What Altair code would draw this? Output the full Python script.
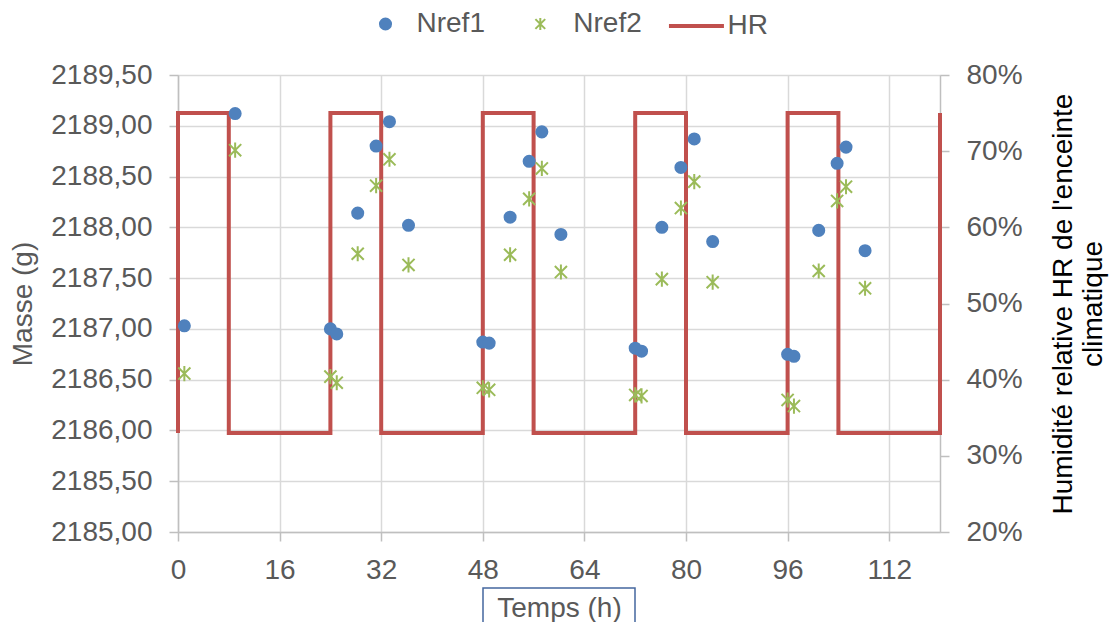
import altair as alt
import pandas as pd

# ---- data ----
T = [1, 9, 24, 25, 28.3, 31.2, 33.3, 36.3, 48, 49, 52.3, 55.3, 57.3, 60.3,
     72, 73, 76.2, 79.2, 81.3, 84.2, 96, 97, 100.9, 103.8, 105.2, 108.2]
NREF1 = [2187.03, 2189.12, 2187.00, 2186.95, 2188.14, 2188.80, 2189.04, 2188.02,
         2186.87, 2186.86, 2188.10, 2188.65, 2188.94, 2187.93,
         2186.81, 2186.78, 2188.00, 2188.59, 2188.87, 2187.86,
         2186.75, 2186.73, 2187.97, 2188.63, 2188.79, 2187.77]
NREF2 = [2186.56, 2188.76, 2186.53, 2186.47, 2187.74, 2188.41, 2188.67, 2187.63,
         2186.42, 2186.40, 2187.73, 2188.28, 2188.58, 2187.56,
         2186.35, 2186.34, 2187.49, 2188.19, 2188.45, 2187.46,
         2186.30, 2186.24, 2187.57, 2188.26, 2188.40, 2187.40]
HR_T = [0, 0, 8, 24, 32, 48, 56, 72, 80, 96, 104, 120]
HR_V = [0.33, 0.75, 0.33, 0.75, 0.33, 0.75, 0.33, 0.75, 0.33, 0.75, 0.33, 0.75]

SERIES = ["Nref1", "Nref2", "HR"]
COLORS = ["#4F81BD", "#9BBB59", "#C0504D"]
X_TICKS = [0, 16, 32, 48, 64, 80, 96, 112]
Y_TICKS = [2185.0, 2185.5, 2186.0, 2186.5, 2187.0, 2187.5, 2188.0, 2188.5, 2189.0, 2189.5]
HR_TICKS = [0.2, 0.3, 0.4, 0.5, 0.6, 0.7, 0.8]

df1 = pd.DataFrame({"t": T, "mass": NREF1, "series": SERIES[0]})
df2 = pd.DataFrame({"t": T, "mass": NREF2, "series": SERIES[1]})
dfhr = pd.DataFrame({"t": HR_T, "hr": HR_V, "series": SERIES[2],
                     "order": list(range(len(HR_T)))})

FONT = "Liberation Sans"
GRAY = "#595959"
ASTER = "M-0.8,-0.8L0.8,0.8M-0.8,0.8L0.8,-0.8M0,-1L0,1"
WIDE_STROKE = "M-2,0L2,0"
LEG_Y = -65


def legend(x, y, shape, size, offset, stroke_w):
    return alt.Legend(orient="none", legendX=x, legendY=y, title=None, padding=0,
                      symbolType=shape, symbolSize=size, labelOffset=offset,
                      symbolStrokeWidth=stroke_w, symbolOpacity=1,
                      labelFontSize=28, labelColor=GRAY, labelFont=FONT)


def color(i, leg):
    return alt.Color("series:N", scale=alt.Scale(domain=[SERIES[i]], range=[COLORS[i]]),
                     legend=leg)


x_enc = alt.X(
    "t:Q",
    scale=alt.Scale(domain=[0, 120], nice=False, zero=False),
    axis=alt.Axis(values=X_TICKS, title="Temps (h)", grid=True, gridColor="#D9D9D9",
                  gridWidth=1.5, domainColor="#BFBFBF", domainWidth=1.5,
                  tickColor="#BFBFBF", tickWidth=1.5, tickSize=9, labelPadding=15,
                  labelFontSize=28, labelColor=GRAY, labelFont=FONT,
                  titleFontSize=28, titleColor=GRAY, titleFont=FONT,
                  titleFontWeight="normal", titlePadding=10, labelFlush=False),
)

y_mass = alt.Y(
    "mass:Q",
    scale=alt.Scale(domain=[2185, 2189.5], nice=False, zero=False),
    axis=alt.Axis(orient="left", values=Y_TICKS,
                  labelExpr="replace(format(datum.value, '.2f'), '.', ',')",
                  title="Masse (g)", grid=True, gridColor="#D9D9D9", gridWidth=1.5,
                  domainColor="#BFBFBF", domainWidth=1.5, tickColor="#BFBFBF",
                  tickWidth=1.5, tickSize=9, labelPadding=17,
                  labelFontSize=28, labelColor=GRAY, labelFont=FONT,
                  titleFontSize=28, titleColor=GRAY, titleFont=FONT,
                  titleFontWeight="normal", titlePadding=13),
)

y_hr = alt.Y(
    "hr:Q",
    scale=alt.Scale(domain=[0.2, 0.8], nice=False, zero=False),
    axis=alt.Axis(orient="right", values=HR_TICKS, format=".0%", grid=False,
                  domainColor="#BFBFBF", domainWidth=1.5, tickColor="#BFBFBF",
                  tickWidth=1.5, tickSize=9, labelPadding=17,
                  labelFontSize=28, labelColor=GRAY, labelFont=FONT,
                  title=["Humidité relative HR de l'enceinte", "climatique"],
                  titleAngle=270, titleBaseline="top", titleLineHeight=30,
                  titleFontSize=28, titleColor="#000000", titleFont=FONT,
                  titleFontWeight="normal", titlePadding=-3),
)

hr_line = alt.Chart(dfhr).mark_line(interpolate="step-after", strokeWidth=4).encode(
    x=x_enc, y=y_hr, order="order:Q",
    color=color(2, legend(502.45, LEG_Y, WIDE_STROKE, 756, 15, 4)),
)

circles = alt.Chart(df1).mark_circle(size=170, opacity=1).encode(
    x=x_enc, y=y_mass,
    color=color(0, legend(193.5, LEG_Y, "circle", 170, 17, 0)),
)
asters = alt.Chart(df2).mark_point(shape=ASTER, size=230, filled=False, strokeWidth=2,
                                   opacity=1).encode(
    x=x_enc, y=y_mass,
    color=color(1, legend(348.3, LEG_Y, ASTER, 150, 19, 2)),
)
points = alt.layer(circles, asters).resolve_scale(color="independent")

frame = alt.Chart(pd.DataFrame({"a": [0]})).mark_rect(
    filled=False, stroke="#44679F", strokeWidth=1.5
).encode(x=alt.value(305), x2=alt.value(457), y=alt.value(513), y2=alt.value(553))

chart = alt.layer(hr_line, points, frame).resolve_scale(
    y="independent", color="independent"
).properties(
    width=762, height=457,
    autosize=alt.AutoSizeParams(type="none"),
    padding={"left": 170, "top": 67, "right": 170, "bottom": 90},
).configure_view(strokeWidth=0).configure(font=FONT)

chart.save("out.html", embed_options={"renderer": "svg", "actions": False})
